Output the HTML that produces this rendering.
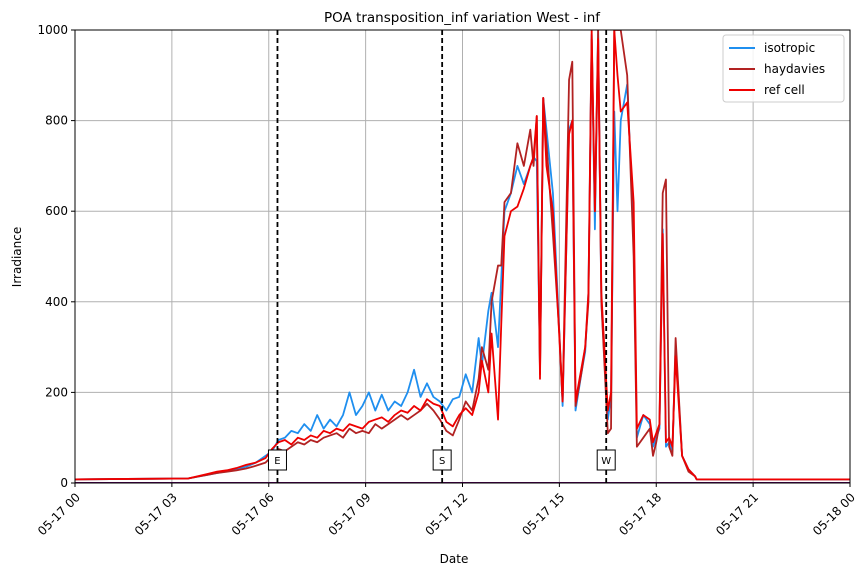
<!DOCTYPE html>
<html><head><meta charset="utf-8"><style>
body{margin:0;background:#fff;font-family:"Liberation Sans","DejaVu Sans",sans-serif}
svg text{font-family:"DejaVu Sans","Liberation Sans",sans-serif}
</style></head><body>
<svg id="chart" width="859" height="576" xmlns="http://www.w3.org/2000/svg">
<defs><clipPath id="clip"><rect x="75" y="30" width="775" height="453"/></clipPath></defs>
<rect x="0" y="0" width="859" height="576" fill="#fff"/>
<g id="grid"></g>
<g id="series" clip-path="url(#clip)"></g>
<g id="markers"></g>
<rect x="75" y="30" width="775" height="453" fill="none" stroke="#000" stroke-width="1"/>
<g id="axes"></g>
<text x="462" y="22" text-anchor="middle" font-size="13.5">POA transposition_inf variation West - inf</text>
<text x="454" y="563" text-anchor="middle" font-size="12">Date</text>
<text x="21" y="257" text-anchor="middle" font-size="12" transform="rotate(-90 21 257)">Irradiance</text>
<g id="legend">
<rect x="723" y="35" width="121" height="67" fill="#fff" fill-opacity="0.85" stroke="#ccc" rx="3"/>
</g>
</svg>
<script>
const hours=[0,3.5,3.8,4.1,4.4,4.7,5.0,5.3,5.6,5.9,6.1,6.3,6.5,6.7,6.9,7.1,7.3,7.5,7.7,7.9,8.1,8.3,8.5,8.7,8.9,9.1,9.3,9.5,9.7,9.9,10.1,10.3,10.5,10.7,10.9,11.1,11.3,11.5,11.7,11.9,12.1,12.3,12.5,12.6,12.8,12.9,13.1,13.2,13.3,13.5,13.7,13.9,14.1,14.2,14.3,14.4,14.5,14.6,14.8,15.0,15.1,15.3,15.4,15.5,15.7,15.8,15.9,16.0,16.1,16.2,16.3,16.5,16.6,16.7,16.8,16.9,17.1,17.3,17.4,17.6,17.8,17.9,18.0,18.1,18.2,18.3,18.4,18.5,18.6,18.8,19.0,19.2,19.25,24];
const refCell=[8,10,15,20,25,28,33,40,45,55,75,90,95,85,100,95,105,100,115,110,120,115,130,125,120,135,140,145,135,150,160,155,170,160,185,175,170,135,125,150,165,150,200,270,200,330,140,350,545,600,610,650,700,720,810,230,850,700,600,320,180,770,800,180,260,300,420,1000,600,980,420,160,200,1000,900,820,840,620,120,150,140,90,110,130,550,90,100,80,280,60,30,15,8,8];
const haydavies=[8,10,14,18,22,25,28,32,38,45,60,75,70,80,90,85,95,90,100,105,110,100,120,110,115,110,130,120,130,140,150,140,150,160,175,160,140,115,105,140,180,160,230,300,250,400,480,480,620,640,750,700,780,700,810,240,850,750,550,330,180,890,930,170,250,300,400,980,600,1000,400,110,120,1000,1000,1000,900,500,80,100,120,60,90,130,640,670,80,60,320,60,25,15,8,8];
const isotropic=[8,10,14,18,22,26,30,36,45,60,70,95,100,115,110,130,115,150,120,140,125,150,200,150,170,200,160,195,160,180,170,200,250,190,220,190,180,160,185,190,240,200,320,260,380,420,300,450,600,640,700,660,700,720,710,250,850,780,640,330,170,780,800,160,250,290,420,990,560,1000,400,140,190,820,600,800,880,550,100,150,130,80,100,120,560,80,90,70,300,60,30,15,8,8];
const xTickHours=[0,3,6,9,12,15,18,21,24];
const xTickLabels=["05-17 00","05-17 03","05-17 06","05-17 09","05-17 12","05-17 15","05-17 18","05-17 21","05-18 00"];
const yTicks=[0,200,400,600,800,1000];
const markerHours=[6.27,11.37,16.45];
const markerLabels=["E","S","W"];
const NS="http://www.w3.org/2000/svg";
const X=h=>75+h/24*775, Y=v=>483-v/1000*453;
function mk(tag,attrs,parent){const e=document.createElementNS(NS,tag);for(const k in attrs)e.setAttribute(k,attrs[k]);parent.appendChild(e);return e;}
const grid=document.getElementById('grid'),axes=document.getElementById('axes');
xTickHours.forEach((h,i)=>{
  const gl=mk('line',{x1:X(h),x2:X(h),y1:30,y2:483,stroke:'#b0b0b0','stroke-width':1},grid);
  
  
  mk('line',{x1:X(h),x2:X(h),y1:483,y2:487,stroke:'#000'},axes);
  const t=mk('text',{x:X(h),y:492,'font-size':12,'text-anchor':'end',transform:`rotate(-45 ${X(h)} 492)`},axes);
  
  
  t.setAttribute('dy','0.7em');
  t.textContent=xTickLabels[i];
});
yTicks.forEach(v=>{
  const gl=mk('line',{x1:75,x2:850,y1:Y(v),y2:Y(v),stroke:'#b0b0b0','stroke-width':1},grid);
  
  
  mk('line',{x1:71,x2:75,y1:Y(v),y2:Y(v),stroke:'#000'},axes);
  const t=mk('text',{x:68,y:Y(v)+4,'font-size':12,'text-anchor':'end'},axes);
  
  
  t.textContent=v;
});
const ser=document.getElementById('series');
const zl=mk('line',{x1:75,x2:850,y1:Y(0),y2:Y(0),stroke:'#5a0060','stroke-width':2},ser);


const seriesDefs=[["isotropic",isotropic,"#1f8fef"],["haydavies",haydavies,"#b22222"],["ref cell",refCell,"#ee0000"]];
seriesDefs.forEach(([name,vals,col])=>{
  const p=mk('polyline',{points:hours.map((h,i)=>X(h)+','+Y(vals[i])).join(' '),fill:'none',stroke:col,'stroke-width':1.8,'stroke-linejoin':'round'},ser);
  
  
});
const mg=document.getElementById('markers');
markerHours.forEach((h,i)=>{
  const l=mk('line',{x1:X(h),x2:X(h),y1:30,y2:483,stroke:'#000','stroke-width':1.8,'stroke-dasharray':'5,3'},mg);
  
  
  const r=mk('rect',{x:X(h)-9,y:450,width:18,height:20,fill:'#fff',stroke:'#000','stroke-width':1},mg);
  
  
  const t=mk('text',{x:X(h),y:464,'font-size':10,'text-anchor':'middle'},mg);
  
  
  t.textContent=markerLabels[i];
});
const lg=document.getElementById('legend');
seriesDefs.forEach(([name,vals,col],i)=>{
  const y=48+i*21;
  const l=mk('line',{x1:729,x2:755,y1:y,y2:y,stroke:col,'stroke-width':2},lg);
  
  
  const t=mk('text',{x:764,y:y+4,'font-size':12},lg);
  
  
  t.textContent=name;
});
</script>
</body></html>
